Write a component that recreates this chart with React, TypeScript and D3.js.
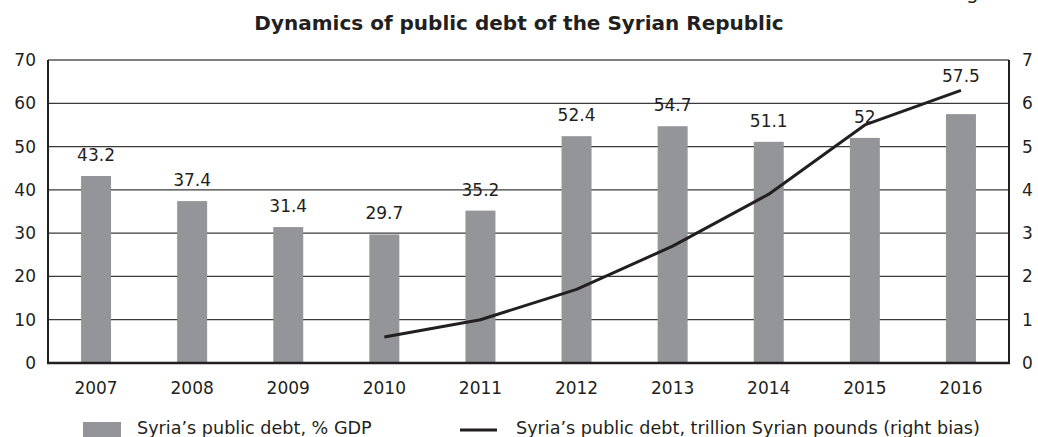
import React from "react";
import * as d3 from "d3";

const years = ["2007", "2008", "2009", "2010", "2011", "2012", "2013", "2014", "2015", "2016"];
const debtPctGdp = [43.2, 37.4, 31.4, 29.7, 35.2, 52.4, 54.7, 51.1, 52, 57.5];
const lineYears = ["2010", "2011", "2012", "2013", "2014", "2015", "2016"];
const debtTrillion = [0.6, 1.0, 1.7, 2.7, 3.9, 5.5, 6.3];
const leftTicks = [0, 10, 20, 30, 40, 50, 60, 70];
const rightTicks = [0, 1, 2, 3, 4, 5, 6, 7];

const W = 1038, H = 437;
const L = 48, R = 1009, T = 60, B = 363;
const FONT = "'DejaVu Sans', sans-serif";
const INK = "#231f20";

export default function App() {
  const x = d3.scaleBand<string>().domain(years).range([L, R]).paddingInner(0.688).paddingOuter(0.344);
  const yL = d3.scaleLinear().domain([0, 70]).range([B, T]);
  const yR = d3.scaleLinear().domain([0, 7]).range([B, T]);
  const cx = (yr: string) => (x(yr) as number) + x.bandwidth() / 2;
  const line = d3.line<number>().x((_, i) => cx(lineYears[i])).y((d) => yR(d));

  return (
    <svg width={W} height={H} style={{ position: "absolute", left: 0, top: 0, background: "#fff" }}>
      <text x={966} y={-1} fontFamily={FONT} fontSize={20} fill={INK}>g</text>
      <text x={519} y={30} textAnchor="middle" fontFamily={FONT} fontWeight="bold" fontSize={20} fill={INK}>
        Dynamics of public debt of the Syrian Republic
      </text>
      {leftTicks.slice(1, -1).map((t) => (
        <line key={t} x1={L} x2={R} y1={yL(t)} y2={yL(t)} stroke="#3a3a3a" strokeWidth={1.3} />
      ))}
      <line x1={L} x2={R} y1={T} y2={T} stroke="#555" strokeWidth={1.3} />
      <line x1={L} x2={L} y1={T} y2={B} stroke={INK} strokeWidth={2} />
      <line x1={R} x2={R} y1={T} y2={B} stroke={INK} strokeWidth={2} />
      {years.map((yr, i) => (
        <rect key={yr} x={x(yr)} y={yL(debtPctGdp[i])} width={x.bandwidth()} height={B - yL(debtPctGdp[i])} fill="#939598" />
      ))}
      <line x1={L - 1} x2={R + 1} y1={B} y2={B} stroke={INK} strokeWidth={2.5} />
      <path d={line(debtTrillion) || ""} fill="none" stroke={INK} strokeWidth={3} strokeLinejoin="round" />
      {years.map((yr, i) => (
        <text key={yr} x={cx(yr)} y={yL(debtPctGdp[i]) - (i === years.length - 1 ? 32 : 15)} textAnchor="middle" fontFamily={FONT} fontSize={17} fill={INK}>
          {debtPctGdp[i]}
        </text>
      ))}
      {leftTicks.map((t) => (
        <text key={t} x={36} y={yL(t) + 6} textAnchor="end" fontFamily={FONT} fontSize={17} fill={INK}>{t}</text>
      ))}
      {rightTicks.map((t) => (
        <text key={t} x={1022} y={yR(t) + 6} textAnchor="start" fontFamily={FONT} fontSize={17} fill={INK}>{t}</text>
      ))}
      {years.map((yr) => (
        <text key={yr} x={cx(yr)} y={394} textAnchor="middle" fontFamily={FONT} fontSize={17} fill={INK}>{yr}</text>
      ))}
      <rect x={83} y={422} width={38} height={15} fill="#939598" />
      <text x={137} y={434} fontFamily={FONT} fontSize={17.6} fill={INK}>Syria’s public debt, % GDP</text>
      <line x1={460} x2={497} y1={430} y2={430} stroke={INK} strokeWidth={3} />
      <text x={516} y={434} fontFamily={FONT} fontSize={17.6} fill={INK}>Syria’s public debt, trillion Syrian pounds (right bias)</text>
    </svg>
  );
}
